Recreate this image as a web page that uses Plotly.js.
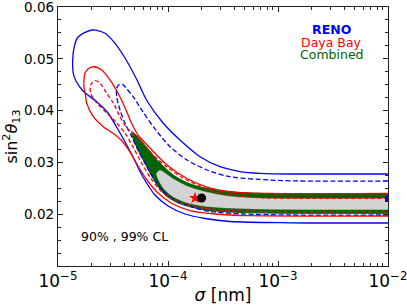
<!DOCTYPE html>
<html><head><meta charset="utf-8">
<script src="https://cdn.plot.ly/plotly-3.0.1.min.js"></script>
<style>html,body{margin:0;padding:0;background:#fff;} #chart{width:407px;height:305px;}</style>
</head><body><div id="chart"></div>
<script>
// RENO 99% CL (blue solid)
const reno99Sigma = [1e-2, 1.585e-3, 6.861e-4, 4.514e-4, 2.970e-4, 1.954e-4, 1.285e-4, 9.063e-5, 6.375e-5, 5.226e-5, 4.066e-5, 3.297e-5, 2.675e-5, 2.050e-5, 1.520e-5, 1.407e-5, 1.360e-5, 1.377e-5, 1.458e-5, 1.688e-5, 2.262e-5, 2.848e-5, 3.367e-5, 3.981e-5, 4.806e-5, 5.926e-5, 7.617e-5, 1.000e-4, 1.427e-4, 2.170e-4, 3.662e-4, 1.285e-3, 1e-2];
const reno99S2 = [0.02776, 0.02776, 0.0279, 0.02824, 0.02917, 0.0311, 0.03432, 0.03755, 0.04205, 0.04591, 0.05015, 0.05299, 0.05492, 0.05556, 0.05421, 0.05234, 0.04977, 0.0472, 0.04571, 0.04378, 0.04166, 0.03954, 0.03703, 0.03432, 0.03104, 0.02718, 0.02371, 0.02158, 0.02004, 0.01917, 0.01859, 0.01834, 0.0183];
// RENO 90% CL (blue dashed)
const reno90Sigma = [1e-2, 1.585e-3, 8.458e-4, 3.662e-4, 2.262e-4, 1.489e-4, 1.043e-4, 7.350e-5, 5.926e-5, 4.836e-5, 4.066e-5, 3.859e-5, 3.533e-5, 3.417e-5, 3.417e-5, 3.662e-5, 4.066e-5, 4.677e-5, 5.337e-5, 6.310e-5, 7.779e-5, 9.590e-5, 1.233e-4, 1.760e-4, 2.409e-4, 4.806e-4, 1.285e-3, 1e-2];
const reno90S2 = [0.02641, 0.02641, 0.0266, 0.02724, 0.02853, 0.03046, 0.03303, 0.03689, 0.03973, 0.04263, 0.04461, 0.04508, 0.0449, 0.0443, 0.04268, 0.04012, 0.03755, 0.03496, 0.03239, 0.0295, 0.02622, 0.0239, 0.02236, 0.0212, 0.02052, 0.02004, 0.01985, 0.01985];
// Daya Bay 99% CL (red solid)
const db99Sigma = [1e-2, 8.458e-4, 3.662e-4, 2.262e-4, 1.489e-4, 9.793e-5, 6.861e-5, 5.337e-5, 4.610e-5, 4.152e-5, 3.624e-5, 2.970e-5, 2.496e-5, 2.094e-5, 1.874e-5, 1.760e-5, 1.723e-5, 1.723e-5, 1.778e-5, 1.823e-5, 2.094e-5, 2.581e-5, 3.229e-5, 3.819e-5, 4.514e-5, 5.337e-5, 6.443e-5, 8.111e-5, 1.087e-4, 1.585e-4, 2.675e-4, 5.565e-4, 1e-2];
const db99S2 = [0.024, 0.024, 0.02429, 0.02525, 0.02689, 0.0295, 0.03278, 0.03529, 0.0378, 0.04012, 0.04282, 0.04591, 0.04784, 0.04847, 0.04803, 0.04726, 0.04591, 0.04461, 0.04301, 0.04147, 0.03882, 0.03689, 0.03548, 0.03413, 0.03201, 0.0293, 0.0266, 0.02409, 0.02207, 0.02071, 0.02004, 0.01971, 0.01965];
// Daya Bay 90% CL (red dashed)
const db90Sigma = [1e-2, 8.458e-4, 5.565e-4, 2.970e-4, 1.954e-4, 1.369e-4, 9.793e-5, 7.305e-5, 5.565e-5, 4.240e-5, 3.662e-5, 3.182e-5, 2.772e-5, 2.409e-5, 2.170e-5, 1.983e-5, 1.983e-5, 2.248e-5, 2.772e-5, 3.417e-5, 4.066e-5, 4.707e-5, 5.565e-5, 6.861e-5, 8.458e-5, 1.087e-4, 1.585e-4, 2.675e-4, 5.565e-4, 1e-2];
const db90S2 = [0.02307, 0.02313, 0.02332, 0.02409, 0.02544, 0.02699, 0.02911, 0.03143, 0.03432, 0.03664, 0.03882, 0.04147, 0.04334, 0.04527, 0.04577, 0.04494, 0.04334, 0.04147, 0.03954, 0.03761, 0.03568, 0.03336, 0.03046, 0.02718, 0.02467, 0.02293, 0.02168, 0.02091, 0.02056, 0.02048];
// Combined 99% CL (green region)
const comb99Sigma = [1e-2, 1.285e-3, 5.565e-4, 2.970e-4, 1.954e-4, 1.479e-4, 1.117e-4, 8.458e-5, 6.403e-5, 5.118e-5, 4.677e-5, 4.836e-5, 5.337e-5, 5.963e-5, 6.861e-5, 7.943e-5, 9.391e-5, 1.207e-4, 1.688e-4, 2.409e-4, 4.514e-4, 1.285e-3, 1e-2];
const comb99S2 = [0.0239, 0.02394, 0.02409, 0.02458, 0.02525, 0.02612, 0.02757, 0.02988, 0.03288, 0.03529, 0.03593, 0.03452, 0.03239, 0.03046, 0.02795, 0.02564, 0.02371, 0.02226, 0.02129, 0.02071, 0.02033, 0.02019, 0.02017];
// Combined 90% CL (grey region)
const comb90Sigma = [1e-2, 8.458e-4, 4.066e-4, 2.675e-4, 1.954e-4, 1.479e-4, 1.117e-4, 8.458e-5, 7.894e-5, 7.943e-5, 9.063e-5, 1.087e-4, 1.427e-4, 1.954e-4, 2.970e-4, 6.861e-4, 1e-2];
const comb90S2 = [0.02303, 0.02303, 0.02332, 0.0239, 0.02458, 0.02544, 0.0268, 0.02844, 0.0279, 0.02737, 0.02506, 0.02351, 0.02236, 0.02168, 0.02129, 0.021, 0.02091];
// Best-fit points
const bfDBSigma = [1.76e-4], bfDBS2 = [0.02313];
const bfCombSigma = [2.02e-4], bfCombS2 = [0.02313];
const bfRenoSigma = [1e-2], bfRenoS2 = [0.02293];
// Labels
const legendLabels = ['RENO', 'Daya Bay', 'Combined'];
const clLabel = '90% , 99% CL';
const yTickVals = [0.02, 0.03, 0.04, 0.05, 0.06];
const yTickText = ['0.02', '0.03', '0.04', '0.05', '0.06'];

const sm = 0.8;
const traces = [
  {x: comb99Sigma, y: comb99S2, mode: 'lines', fill: 'toself', fillcolor: '#006400', line: {color: '#006400', width: 1, shape: 'spline', smoothing: sm}, hoverinfo: 'skip'},
  {x: comb90Sigma, y: comb90S2, mode: 'lines', fill: 'toself', fillcolor: '#d3d3d3', line: {color: '#d3d3d3', width: 0.5, shape: 'spline', smoothing: sm}, hoverinfo: 'skip'},
  {x: reno99Sigma, y: reno99S2, mode: 'lines', line: {color: '#0000ff', width: 1.3, shape: 'spline', smoothing: sm}},
  {x: reno90Sigma, y: reno90S2, mode: 'lines', line: {color: '#0000ff', width: 1.3, dash: '5px,2.5px', shape: 'spline', smoothing: sm}},
  {x: db99Sigma, y: db99S2, mode: 'lines', line: {color: '#ff0000', width: 1.3, shape: 'spline', smoothing: sm}},
  {x: db90Sigma, y: db90S2, mode: 'lines', line: {color: '#ff0000', width: 1.3, dash: '4px,2.5px', shape: 'spline', smoothing: sm}},
  {x: bfRenoSigma, y: bfRenoS2, mode: 'markers', marker: {symbol: 'square', size: 6, color: '#0000ff'}},
  {x: bfDBSigma, y: bfDBS2, mode: 'markers', marker: {symbol: 'star', size: 9, color: '#ff0000'}},
  {x: bfCombSigma, y: bfCombS2, mode: 'markers', marker: {symbol: 'circle', size: 9, color: '#000000'}}
];

const axisCommon = {
  ticks: 'inside', ticklen: 5, tickwidth: 1, tickcolor: '#222',
  mirror: 'ticks', showline: true, linecolor: '#222', linewidth: 1.2,
  showgrid: false, zeroline: false, tickfont: {size: 13.5, color: '#000'},
  ticklabeloverflow: 'allow'
};

const layout = {
  width: 407, height: 305,
  margin: {l: 58, r: 19, t: 7, b: 39},
  paper_bgcolor: '#fff', plot_bgcolor: '#fff',
  showlegend: false,
  font: {family: 'DejaVu Sans', color: '#000'},
  xaxis: Object.assign({}, axisCommon, {
    type: 'log', range: [-5, -2], dtick: 1, exponentformat: 'power',
    minor: {ticks: 'inside', ticklen: 3, tickcolor: '#222', dtick: 'D1', showgrid: false},
    title: {text: '<i>σ</i> [nm]', font: {size: 17}, standoff: 3}
  }),
  yaxis: Object.assign({}, axisCommon, {
    range: [0.01, 0.0600001], tickmode: 'array', tickvals: yTickVals, ticktext: yTickText,
    minor: {tickmode: 'linear', tick0: 0, dtick: 0.0025, ticks: 'inside', ticklen: 3, tickcolor: '#222', showgrid: false},
    title: {text: 'sin<sup>2</sup><i>θ</i><sub>13</sub>', font: {size: 16}, standoff: 6}
  }),
  annotations: [
    {text: '<b>' + legendLabels[0] + '</b>', x: 0.829, y: 0.914, xref: 'paper', yref: 'paper', showarrow: false, xanchor: 'center', yanchor: 'middle', font: {size: 12.5, color: '#0000ff'}},
    {text: legendLabels[1], x: 0.829, y: 0.8637, xref: 'paper', yref: 'paper', showarrow: false, xanchor: 'center', yanchor: 'middle', font: {size: 12.5, color: '#ff0000'}},
    {text: legendLabels[2], x: 0.829, y: 0.8185, xref: 'paper', yref: 'paper', showarrow: false, xanchor: 'center', yanchor: 'middle', font: {size: 12.5, color: '#006400'}},
    {text: clLabel, x: 0.2, y: 0.1158, xref: 'paper', yref: 'paper', showarrow: false, xanchor: 'center', yanchor: 'middle', font: {size: 12.5, color: '#000'}}
  ]
};

Plotly.newPlot('chart', traces, layout, {staticPlot: true, displayModeBar: false});
</script>
</body></html>
